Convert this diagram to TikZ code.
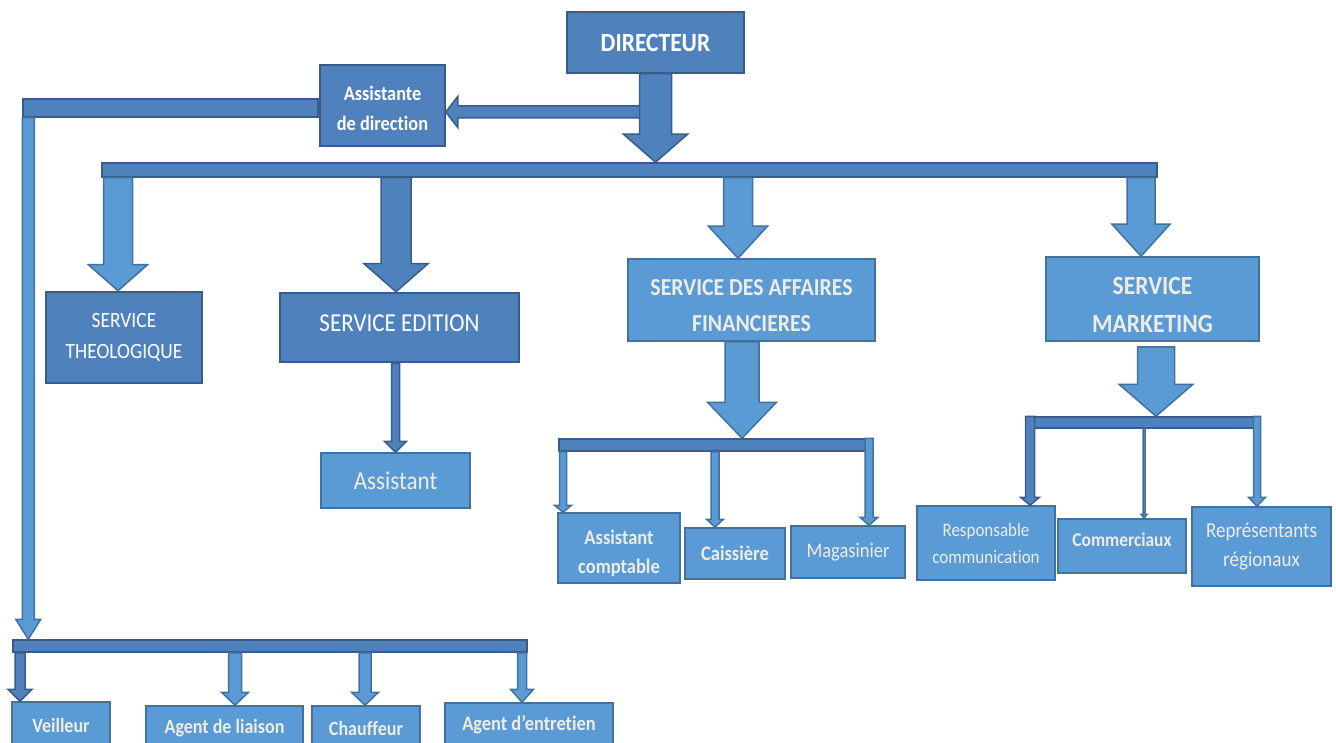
\documentclass[tikz,border=0pt]{standalone}
\usepackage{fontspec}
\setmainfont{Carlito}[FakeStretch=0.893,Ligatures=CommonOff]
\usetikzlibrary{calc}
\definecolor{cDark}{HTML}{4F81BD}
\definecolor{cDarkB}{HTML}{385D8A}
\definecolor{cLight}{HTML}{5B9BD5}
\definecolor{cLightB}{HTML}{41719C}
\definecolor{cCream}{HTML}{EEECE1}
\newcommand\downarr[6]{%
  \path[#1] let \p1=#2, \p2=#3 in
   (\x2-#4,\y1) -- (\x2+#4,\y1) -- (\x2+#4,\y2+#6) -- (\x2+#5,\y2+#6) --
   (\x2,\y2) -- (\x2-#5,\y2+#6) -- (\x2-#4,\y2+#6) -- cycle;}
\newcommand\leftarr[6]{%
  \path[#1] let \p1=#2, \p2=#3 in
   (\x1,\y2-#4) -- (\x1,\y2+#4) -- (\x2+#6,\y2+#4) -- (\x2+#6,\y2+#5) --
   (\x2,\y2) -- (\x2+#6,\y2-#5) -- (\x2+#6,\y2-#4) -- cycle;}
\begin{document}
\begin{tikzpicture}[x=1pt,y=-1pt,
  dark/.style={fill=cDark,draw=cDarkB,line width=1.5pt},
  light/.style={fill=cLight,draw=cLightB,line width=1.5pt},
  box/.style={rectangle,inner sep=0pt,align=center},
  bar/.style={rectangle,inner sep=0pt},
  wtxt/.style={text=white,align=center},
  ctxt/.style={text=cCream,align=center},
  thick box/.style={line width=2.5pt}]
\useasboundingbox (0,0) rectangle (1336,743);

% top level
\node[box,dark,wtxt,minimum width=177pt,minimum height=61pt,
  font=\bfseries\fontsize{26.3}{30}\selectfont] (dir) at (655.5,42.5) {DIRECTEUR};
\node[box,dark,minimum width=125pt,minimum height=81pt,
  label={[wtxt,yshift=-3pt,font=\bfseries\fontsize{20.5}{30}\selectfont]center:Assistante\\de direction}] (asst) at (382.5,105.5) {};
\node[bar,dark,minimum width=295pt,minimum height=18pt] (leftbar) at (170.5,108) {};
\node[bar,dark,minimum width=1055pt,minimum height=14pt] (mainbar) at (629.5,170) {};

% services
\node[box,dark,thick box,wtxt,minimum width=156pt,minimum height=91pt,
  font=\fontsize{21.8}{31}\selectfont] (theo) at (124,337.5) {SERVICE\\THEOLOGIQUE};
\node[box,dark,thick box,minimum width=239pt,minimum height=69pt,
  label={[wtxt,yshift=4pt,font=\fontsize{25.8}{30}\selectfont]center:SERVICE EDITION}] (edit) at (399.5,327.5) {};
\node[box,light,ctxt,minimum width=149pt,minimum height=55pt,
  font=\fontsize{25.8}{30}\selectfont] (assist) at (395.5,480.5) {Assistant};
\node[box,light,minimum width=247pt,minimum height=82pt,
  label={[ctxt,yshift=-6pt,font=\bfseries\fontsize{24.4}{36}\selectfont]center:SERVICE DES AFFAIRES\\FINANCIERES}] (fin) at (751.5,300) {};
\node[box,light,minimum width=213pt,minimum height=84pt,
  label={[ctxt,yshift=-6pt,font=\bfseries\fontsize{26.3}{38}\selectfont]center:SERVICE\\MARKETING}] (mkt) at (1152.5,299) {};

% finance
\node[bar,dark,minimum width=314pt,minimum height=12pt] (finbar) at (716,445) {};
\node[box,light,minimum width=122pt,minimum height=70pt,
  label={[ctxt,yshift=-5pt,font=\bfseries\fontsize{20.7}{29}\selectfont]center:Assistant\\comptable}] (ac) at (619,548) {};
\node[box,light,ctxt,minimum width=100pt,minimum height=51pt,
  font=\bfseries\fontsize{20.7}{24}\selectfont] (cai) at (735,553.5) {Caissière};
\node[box,light,ctxt,minimum width=114pt,minimum height=52pt,
  font=\fontsize{20.7}{24}\selectfont] (mag) at (848,552) {Magasinier};

% marketing
\node[bar,dark,minimum width=233pt,minimum height=11pt] (mktbar) at (1142.5,422.5) {};
\node[box,light,ctxt,minimum width=138pt,minimum height=74pt,
  font=\fontsize{19}{27}\selectfont] (resp) at (986,543) {Responsable\\communication};
\node[box,light,minimum width=128pt,minimum height=54pt,
  label={[ctxt,yshift=6pt,font=\bfseries\fontsize{19.5}{22}\selectfont]center:Commerciaux}] (com) at (1122,546) {};
\node[box,light,ctxt,minimum width=139pt,minimum height=79pt,
  font=\fontsize{21.3}{29}\selectfont] (rep) at (1261.5,546.5) {Représentants\\régionaux};

% bottom
\node[bar,dark,minimum width=514pt,minimum height=12pt] (botbar) at (270,646) {};
\node[box,light,ctxt,minimum width=98pt,minimum height=46pt,
  font=\bfseries\fontsize{20.2}{22}\selectfont] (vei) at (61,725) {Veilleur};
\node[box,light,ctxt,minimum width=157pt,minimum height=44pt,
  font=\bfseries\fontsize{20.2}{22}\selectfont] (liais) at (224.5,728) {Agent de liaison};
\node[box,light,ctxt,minimum width=108pt,minimum height=44pt,
  font=\bfseries\fontsize{20.2}{22}\selectfont] (chau) at (366,728) {Chauffeur};
\node[box,light,ctxt,minimum width=168pt,minimum height=44pt,
  font=\bfseries\fontsize{20.6}{22}\selectfont] (entr) at (529,725) {Agent d’entretien};

% connectors
\coordinate (dirsh) at (640,112);
\leftarr{dark}{(dirsh)}{($(asst.east)+(0,6.5)$)}{6pt}{15.5pt}{12pt}
\downarr{dark}{(dir.south)}{(mainbar.north -| dir.south)}{16pt}{32pt}{28pt}
\downarr{light}{(leftbar.south)}{($(botbar.north west)+(16,0)$)}{6pt}{12.5pt}{20pt}

\downarr{light}{(mainbar.south)}{($(theo.north)+(-6,0)$)}{14.5pt}{29.5pt}{26pt}
\downarr{dark}{(mainbar.south)}{($(edit.north)+(-3.5,0)$)}{15pt}{32pt}{28pt}
\downarr{dark}{(edit.south)}{(assist.north)}{4pt}{11pt}{11pt}
\downarr{light}{(mainbar.south)}{($(fin.north)+(-13.5,0)$)}{14.5pt}{29.5pt}{32pt}
\downarr{light}{(mainbar.south)}{($(mkt.north)+(-11.5,0)$)}{14pt}{29pt}{32pt}

\downarr{light}{(fin.south)}{($(finbar.north -| fin.south)+(-9.5,0)$)}{17pt}{34.5pt}{36pt}
\downarr{light}{(finbar.south)}{($(ac.north)+(-56,0)$)}{3.5pt}{8.5pt}{7pt}
\downarr{light}{(finbar.south)}{($(cai.north)+(-20,0)$)}{4pt}{8.5pt}{8pt}
\downarr{light}{(finbar.north)}{($(mag.north)+(21,0)$)}{4pt}{9pt}{8pt}

\downarr{light}{($(mkt.south)+(0,5)$)}{($(mktbar.north -| mkt.south)+(3.5,0)$)}{18.5pt}{37pt}{32pt}
\downarr{dark}{(mktbar.north)}{($(resp.north)+(44,0)$)}{4.5pt}{9.5pt}{8pt}
\downarr{light}{(mktbar.south)}{($(com.north)+(22,0)$)}{1pt}{3pt}{4pt}
\downarr{light}{(mktbar.north)}{($(rep.north)+(-4.5,0)$)}{3.5pt}{8.5pt}{9pt}

\downarr{dark}{(botbar.south)}{($(vei.north)+(-41,0)$)}{5pt}{12pt}{12pt}
\downarr{light}{(botbar.south)}{($(liais.north)+(10.5,0)$)}{6.5pt}{13.5pt}{13pt}
\downarr{light}{(botbar.south)}{($(chau.north)+(-1,0)$)}{6pt}{13.5pt}{13pt}
\downarr{light}{(botbar.south)}{($(entr.north)+(-7,0)$)}{4.5pt}{11.5pt}{13pt}
\end{tikzpicture}
\end{document}
